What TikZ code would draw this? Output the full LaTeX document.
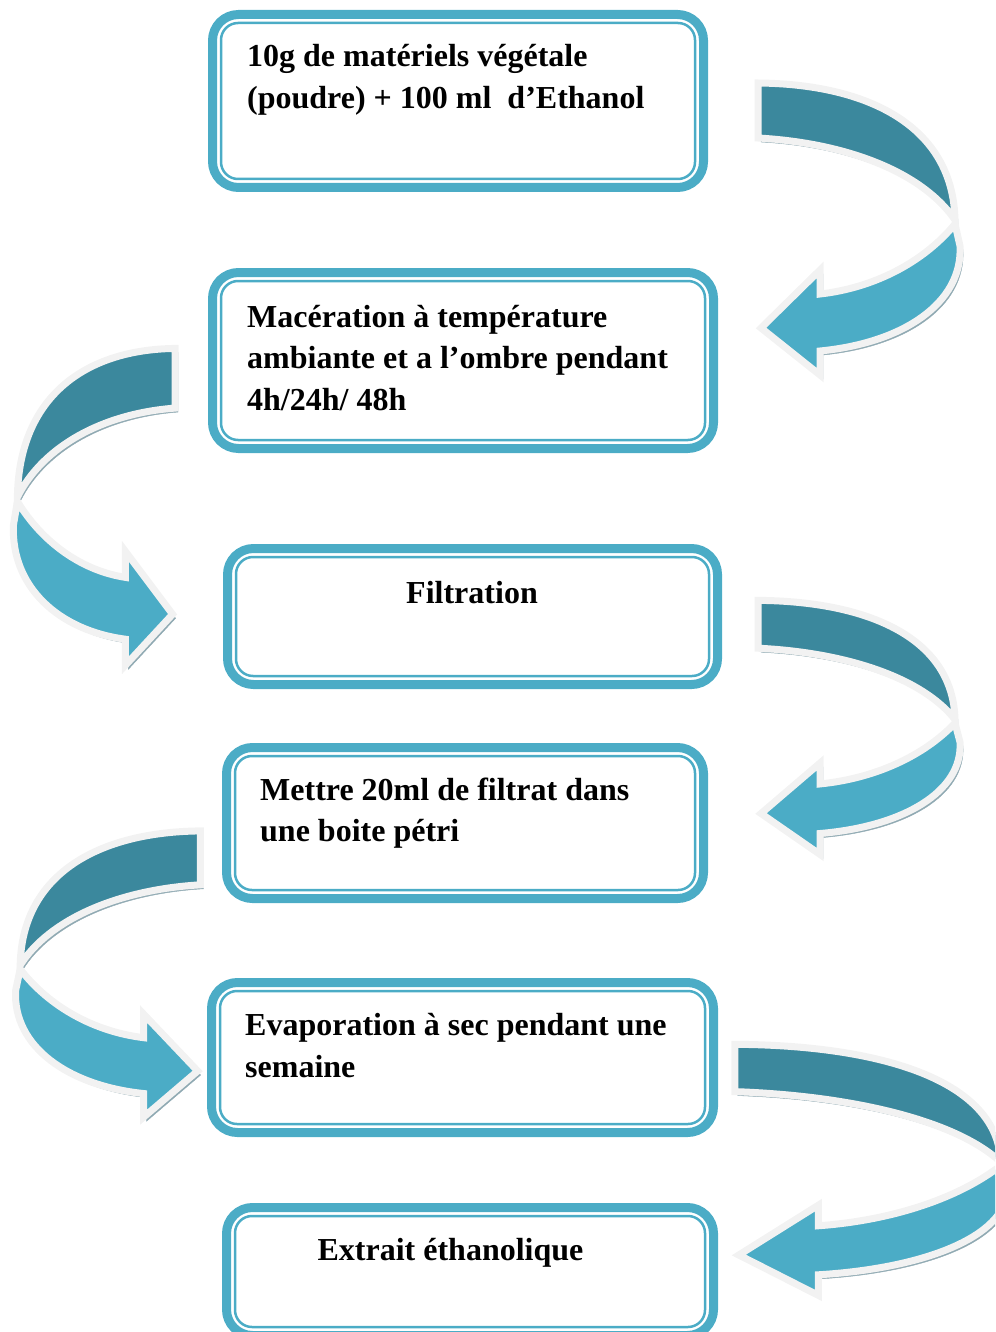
\documentclass[tikz,border=0pt]{standalone}
\usepackage{fontspec}
\setmainfont{Liberation Serif}
\usepackage{xcolor}
\definecolor{boxteal}{HTML}{4BACC6}
\definecolor{ribbondark}{HTML}{3B889D}
\definecolor{ribbonlight}{HTML}{4BACC6}
\definecolor{ribbonedge}{HTML}{F2F2F2}
\definecolor{ribbonshadow}{HTML}{8FA9B2}

\begin{document}
\begin{tikzpicture}[x=1pt,y=-1pt,
		stepbox/.style={draw=boxteal,line width=9pt,rounded corners=26pt,inner sep=0pt},
		innerline/.style={draw=boxteal,line width=2.5pt,rounded corners=17pt},
		steptext/.style={font=\bfseries\fontsize{32}{41.5}\selectfont,align=left,inner sep=0pt},
		ribbonpiece/.style={draw=ribbonedge,line width=7pt,
			preaction={fill=ribbonshadow,draw=ribbonshadow,transform canvas={xshift=3pt,yshift=-4pt}}},
		pics/ribbon/.style={code={
			% partie arriere (sombre)
			\filldraw[ribbonpiece,fill=ribbondark]
			(5,5) .. controls (115,6) and (200,48) .. (202,142)
			.. controls (170,95) and (95,65) .. (5,60) -- cycle;
			% partie avant (claire) et pointe
			\filldraw[ribbonpiece,fill=ribbonlight]
			(202,146) .. controls (170,185) and (120,210) .. (67,216)
			-- (67,192) -- (8,250) -- (67,297) -- (67,273)
			.. controls (150,265) and (210,225) .. (207,168) -- cycle;
		}}]
	\useasboundingbox (0,0) rectangle (995,1332);
	\clip (0,0) rectangle (995,1332);
	% cadres des etapes
	\node[stepbox,minimum width=491pt,minimum height=173pt] (b1) at (458,101) {};
	\node[stepbox,minimum width=501pt,minimum height=176pt] (b2) at (463,360.5) {};
	\node[stepbox,minimum width=490pt,minimum height=136pt] (b3) at (472.5,616.5) {};
	\node[stepbox,minimum width=477pt,minimum height=151pt] (b4) at (465,823) {};
	\node[stepbox,minimum width=502pt,minimum height=150pt] (b5) at (462.5,1057.5) {};
	\node[stepbox,minimum width=487pt,minimum height=128pt] (b6) at (470,1271.5) {};
	\foreach \bx in {b1,b2,b3,b4,b5,b6}
		\draw[innerline] ([xshift=13pt,yshift=-13pt]\bx.north west) rectangle ([xshift=-13pt,yshift=13pt]\bx.south east);
	% textes
	\node[steptext,anchor=base west] (t1) at (247,108.5) {10g de matériels végétale\\(poudre) + 100 ml\ \ d’Ethanol};
	\node[steptext,anchor=base west] (t2) at (247,410) {Macération à température\\ambiante et a l’ombre pendant\\4h/24h/ 48h};
	\node[steptext,anchor=base] (t3) at (472,603) {Filtration};
	\node[steptext,anchor=base west] (t4) at (260,841.5) {Mettre 20ml de filtrat dans\\une boite pétri};
	\node[steptext,anchor=base west] (t5) at (245,1077) {Evaporation à sec pendant une\\semaine};
	\node[steptext,anchor=base] (t6) at (450.5,1260) {Extrait éthanolique};
	% fleches courbes
	\pic at (753,78) {ribbon};
	\pic[xscale=-0.80,yscale=1.085] at (179,343) {ribbon};
	\pic[yscale=0.87] at (753,596) {ribbon};
	\pic[xscale=-0.915,yscale=0.98] at (205,826) {ribbon};
	\pic[xscale=1.35,yscale=0.86] at (728,1040) {ribbon};
\end{tikzpicture}
\end{document}
